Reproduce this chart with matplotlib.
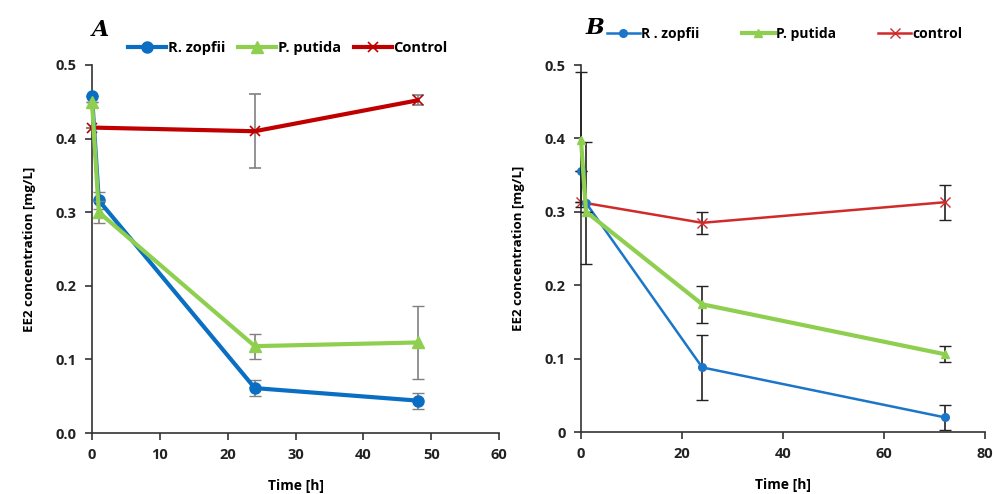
import matplotlib
matplotlib.use('Agg')
import matplotlib.pyplot as plt

# --- Panel A data ---
time_a = [0, 1, 24, 48]
zopfii_a = [0.458, 0.316, 0.061, 0.044]
zopfii_a_err = [0.0, 0.012, 0.011, 0.011]
putida_a = [0.450, 0.300, 0.118, 0.123]
putida_a_err = [0.0, 0.015, 0.017, 0.050]
time_ctrl_a = [0, 24, 48]
control_a = [0.415, 0.410, 0.452]
control_a_err = [0.0, 0.050, 0.007]
labels_a = ['R. zopfii', 'P. putida', 'Control']

# --- Panel B data ---
time_b = [0, 1, 24, 72]
zopfii_b = [0.355, 0.312, 0.088, 0.020]
zopfii_b_err = [0.0, 0.083, 0.044, 0.017]
putida_b = [0.398, 0.300, 0.174, 0.106]
putida_b_err = [0.092, 0.0, 0.025, 0.011]
time_ctrl_b = [0, 24, 72]
control_b = [0.313, 0.285, 0.313]
control_b_err = [0.0, 0.015, 0.024]
labels_b = ['R . zopfii', 'P. putida', 'control']

BLUE = '#0a6fc2'
GREEN = '#8fcf4f'
RED = '#c00000'

plt.rcParams['font.family'] = ['Open Sans', 'DejaVu Sans']
plt.rcParams['font.weight'] = 'bold'

fig = plt.figure(figsize=(9.93, 4.94), dpi=100)
axA = fig.add_axes([92 / 993, 1 - 433 / 494, 407 / 993, 368 / 494])
axB = fig.add_axes([581 / 993, 1 - 432 / 494, 404 / 993, 367 / 494])


def style_axis(ax, xmax, xstep, yfmt):
    ax.set_xlim(0, xmax)
    ax.set_ylim(0, 0.5)
    ax.set_xticks(range(0, xmax + 1, xstep))
    ax.set_yticks([0, 0.1, 0.2, 0.3, 0.4, 0.5])
    ax.set_yticklabels([yfmt(v) for v in [0, 0.1, 0.2, 0.3, 0.4, 0.5]])
    for s in ['top', 'right']:
        ax.spines[s].set_visible(False)
    for s in ['left', 'bottom']:
        ax.spines[s].set_color('#333333')
        ax.spines[s].set_linewidth(1.2)
    ax.tick_params(direction='out', length=5, width=1.2, colors='#333333',
                   labelsize=10.5, labelcolor='#222222', pad=6)
    for lab in ax.get_xticklabels() + ax.get_yticklabels():
        lab.set_fontweight('bold')
    ax.set_xlabel('Time [h]', fontsize=10, fontweight='bold', labelpad=12)
    ax.set_ylabel('EE2 concentration [mg/L]', fontsize=9.5, fontweight='bold', labelpad=14)


def draw_series(ax, x, y, err, ecolor, **kw):
    cont = ax.errorbar(x, y, yerr=err, ecolor=ecolor, elinewidth=1.2, capsize=4, **kw)
    for artist in [cont[0], *cont[1], *cont[2]]:
        artist.set_clip_on(False)
    return cont[0]


# --- Panel A ---
ax = axA
hA = [
    draw_series(ax, time_a, zopfii_a, zopfii_a_err, '#808080', color=BLUE, lw=3,
                marker='o', ms=8, zorder=3),
    draw_series(ax, time_a, putida_a, putida_a_err, '#808080', color=GREEN, lw=3,
                marker='^', ms=8, zorder=4),
    draw_series(ax, time_ctrl_a, control_a, control_a_err, '#808080', color=RED, lw=3,
                marker='x', ms=7, mew=1.2, zorder=2),
]
style_axis(ax, 60, 10, lambda v: f'{v:.1f}')
ax.legend(hA, labels_a, loc='lower left', bbox_to_anchor=(0.075, 1.01), ncol=3, frameon=False,
          fontsize=10.5, handlelength=2.6, handletextpad=0.1, columnspacing=0.9,
          borderaxespad=0)
fig.text(92 / 993, 1 - 30 / 494, 'A', fontsize=16, family='DejaVu Serif',
         style='italic', fontweight='bold', va='center')

# --- Panel B ---
ax = axB
hB = [
    draw_series(ax, time_b, zopfii_b, zopfii_b_err, '#222222', color='#1b75c9', lw=1.8,
                marker='o', ms=5.5, zorder=3),
    draw_series(ax, time_b, putida_b, putida_b_err, '#222222', color=GREEN, lw=3,
                marker='^', ms=6, zorder=4),
    draw_series(ax, time_ctrl_b, control_b, control_b_err, '#222222', color='#d12a2a', lw=1.8,
                marker='x', ms=7, mew=1.0, zorder=2),
]
style_axis(ax, 80, 20, lambda v: '0' if v == 0 else f'{v:.1f}')
ax.legend(hB, labels_b, loc='lower left', bbox_to_anchor=(0.05, 1.05), ncol=3, frameon=False,
          fontsize=10, handlelength=2.4, handletextpad=0.1, columnspacing=3.0,
          borderaxespad=0)
fig.text(586 / 993, 1 - 28 / 494, 'B', fontsize=16, family='DejaVu Serif',
         style='italic', fontweight='bold', va='center')

plt.savefig('out.png', dpi=100)
plt.close(fig)
